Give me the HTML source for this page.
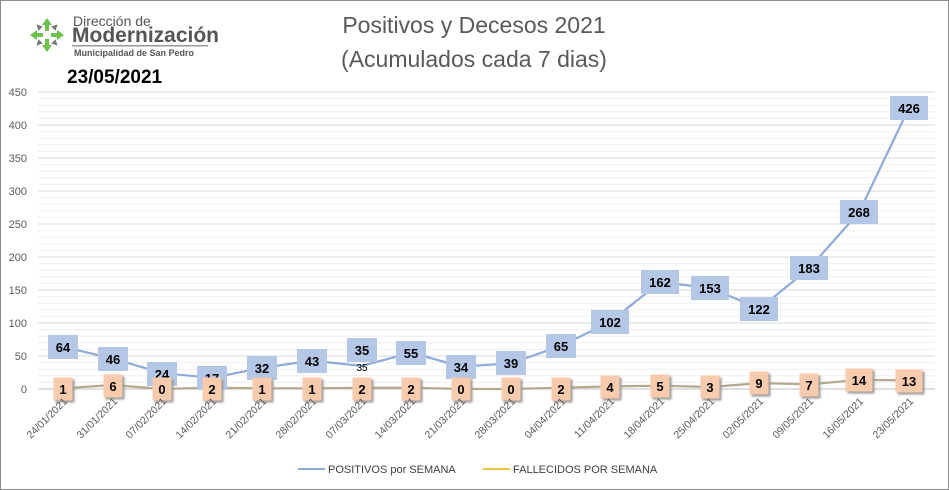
<!DOCTYPE html>
<html><head><meta charset="utf-8"><style>
body{margin:0;background:#fff}
svg{display:block;font-family:"Liberation Sans",sans-serif}
</style></head><body>
<svg width="949" height="490" viewBox="0 0 949 490">
<rect x="0.5" y="0.5" width="948" height="489" fill="#fff" stroke="#8c8c8c"/>
<!-- logo -->
<g transform="translate(47,35)">
<g fill="#6cc24a">
<path d="M0,-17 l5,7 h-3 v6 h-4 v-6 h-3z"/>
<path d="M0,-17 l5,7 h-3 v6 h-4 v-6 h-3z" transform="rotate(90)"/>
<path d="M0,-17 l5,7 h-3 v6 h-4 v-6 h-3z" transform="rotate(180)"/>
<path d="M0,-17 l5,7 h-3 v6 h-4 v-6 h-3z" transform="rotate(270)"/>
</g>
<g fill="#777">
<path d="M0,-15 l3,6 h-6z" transform="rotate(45)"/>
<path d="M0,-15 l3,6 h-6z" transform="rotate(135)"/>
<path d="M0,-15 l3,6 h-6z" transform="rotate(225)"/>
<path d="M0,-15 l3,6 h-6z" transform="rotate(315)"/>
</g>
</g>
<text x="73" y="26" font-size="14" fill="#555">Dirección de</text>
<text x="72" y="42" font-size="21" font-weight="bold" fill="#555">Modernización</text>
<rect x="72" y="45" width="136" height="1.5" fill="#999"/>
<text x="74" y="56" font-size="9" font-weight="bold" fill="#555">Municipalidad de San Pedro</text>
<text x="67" y="83" font-size="19" font-weight="bold" fill="#000">23/05/2021</text>
<text x="474" y="33" font-size="23" fill="#595959" text-anchor="middle">Positivos y Decesos 2021</text>
<text x="474" y="67" font-size="23" fill="#595959" text-anchor="middle">(Acumulados cada 7 dias)</text>
<!-- grid -->
<g stroke="#f0f0f0" stroke-width="1">
<path d="M38 382.4H935M38 375.8H935M38 369.2H935M38 362.6H935M38 349.4H935M38 342.8H935M38 336.2H935M38 329.6H935M38 316.4H935M38 309.8H935M38 303.2H935M38 296.6H935M38 283.4H935M38 276.8H935M38 270.2H935M38 263.6H935M38 250.4H935M38 243.8H935M38 237.2H935M38 230.6H935M38 217.4H935M38 210.8H935M38 204.2H935M38 197.6H935M38 184.4H935M38 177.8H935M38 171.2H935M38 164.6H935M38 151.4H935M38 144.8H935M38 138.2H935M38 131.6H935M38 118.4H935M38 111.8H935M38 105.2H935M38 98.6H935"/>
</g>
<g stroke="#d9d9d9" stroke-width="1">
<path d="M38 356H935M38 323H935M38 290H935M38 257H935M38 224H935M38 191H935M38 158H935M38 125H935M38 92H935"/>
</g>
<path d="M38 389H935" stroke="#bfbfbf"/>
<g font-size="11" fill="#595959" text-anchor="end">
<text x="27" y="393">0</text><text x="27" y="360">50</text><text x="27" y="327">100</text><text x="27" y="294">150</text><text x="27" y="261">200</text><text x="27" y="228">250</text><text x="27" y="195">300</text><text x="27" y="162">350</text><text x="27" y="129">400</text><text x="27" y="96">450</text>
</g>
<!-- lines -->
<polyline fill="none" stroke="#8eaad8" stroke-width="2.2" points="63,346.8 112.8,358.6 162.5,373.2 212.3,377.8 262,367.9 311.8,360.6 361.6,365.9 411.3,352.7 461.1,366.6 510.8,363.3 560.6,346.1 610.4,321.7 660.1,282.1 709.9,288 759.6,308.5 809.4,268.2 859.2,212.1 909,107.8"/>
<polyline fill="none" stroke="#b4a88e" stroke-width="2.2" points="63,388.3 112.8,385 162.5,389 212.3,387.7 262,388.3 311.8,388.3 361.6,387.7 411.3,387.7 461.1,389 510.8,389 560.6,387.7 610.4,386.4 660.1,385.7 709.9,387 759.6,383.1 809.4,384.4 859.2,379.8 909,380.4"/>
<!-- positive labels -->
<g fill="#b4c7e7">
<rect x="48" y="335" width="30" height="24"/><rect x="98" y="347" width="30" height="24"/><rect x="147" y="362" width="30" height="24"/><rect x="197" y="366" width="30" height="24"/><rect x="247" y="356" width="30" height="24"/><rect x="297" y="349" width="30" height="24"/><rect x="347" y="338" width="30" height="24"/><rect x="396" y="341" width="30" height="24"/><rect x="446" y="355" width="30" height="24"/><rect x="496" y="351" width="30" height="24"/><rect x="546" y="334" width="30" height="24"/><rect x="591" y="310" width="38" height="24"/><rect x="641" y="270" width="38" height="24"/><rect x="691" y="276" width="38" height="24"/><rect x="740" y="297" width="38" height="24"/><rect x="790" y="256" width="38" height="24"/><rect x="840" y="200" width="38" height="24"/><rect x="890" y="96" width="38" height="24"/>
</g>
<g font-size="13" font-weight="bold" fill="#000" text-anchor="middle">
<text x="63" y="352">64</text><text x="113" y="364">46</text><text x="162" y="379">24</text><text x="212" y="383">17</text><text x="262" y="373">32</text><text x="312" y="366">43</text><text x="362" y="355">35</text><text x="411" y="358">55</text><text x="461" y="372">34</text><text x="511" y="368">39</text><text x="561" y="351">65</text><text x="610" y="327">102</text><text x="660" y="287">162</text><text x="710" y="293">153</text><text x="759" y="314">122</text><text x="809" y="273">183</text><text x="859" y="217">268</text><text x="909" y="113">426</text>
</g>
<text x="362" y="371" font-size="10" fill="#000" text-anchor="middle">35</text>
<!-- death labels -->
<g fill="#f8cbad" stroke="#f8cbad">
<rect x="54" y="378" width="18" height="22" style="filter:drop-shadow(2px 2px 1px #999)"/><rect x="104" y="375" width="18" height="22" style="filter:drop-shadow(2px 2px 1px #999)"/><rect x="153" y="378" width="18" height="22" style="filter:drop-shadow(2px 2px 1px #999)"/><rect x="203" y="378" width="18" height="22" style="filter:drop-shadow(2px 2px 1px #999)"/><rect x="253" y="378" width="18" height="22" style="filter:drop-shadow(2px 2px 1px #999)"/><rect x="303" y="378" width="18" height="22" style="filter:drop-shadow(2px 2px 1px #999)"/><rect x="353" y="378" width="18" height="22" style="filter:drop-shadow(2px 2px 1px #999)"/><rect x="402" y="378" width="18" height="22" style="filter:drop-shadow(2px 2px 1px #999)"/><rect x="452" y="378" width="18" height="22" style="filter:drop-shadow(2px 2px 1px #999)"/><rect x="502" y="378" width="18" height="22" style="filter:drop-shadow(2px 2px 1px #999)"/><rect x="552" y="378" width="18" height="22" style="filter:drop-shadow(2px 2px 1px #999)"/><rect x="601" y="376" width="18" height="22" style="filter:drop-shadow(2px 2px 1px #999)"/><rect x="651" y="375" width="18" height="22" style="filter:drop-shadow(2px 2px 1px #999)"/><rect x="701" y="376" width="18" height="22" style="filter:drop-shadow(2px 2px 1px #999)"/><rect x="750" y="372" width="18" height="22" style="filter:drop-shadow(2px 2px 1px #999)"/><rect x="800" y="374" width="18" height="22" style="filter:drop-shadow(2px 2px 1px #999)"/><rect x="846" y="369" width="26" height="22" style="filter:drop-shadow(2px 2px 1px #999)"/><rect x="896" y="370" width="26" height="22" style="filter:drop-shadow(2px 2px 1px #999)"/>
</g>
<g font-size="13" font-weight="bold" fill="#000" text-anchor="middle">
<text x="63" y="394">1</text><text x="113" y="391">6</text><text x="162" y="394">0</text><text x="212" y="394">2</text><text x="262" y="394">1</text><text x="312" y="394">1</text><text x="362" y="394">2</text><text x="411" y="394">2</text><text x="461" y="394">0</text><text x="511" y="394">0</text><text x="561" y="394">2</text><text x="610" y="392">4</text><text x="660" y="391">5</text><text x="710" y="392">3</text><text x="759" y="388">9</text><text x="809" y="390">7</text><text x="859" y="385">14</text><text x="909" y="386">13</text>
</g>
<!-- x labels -->
<g font-size="10.5" fill="#595959" text-anchor="end">
<text transform="translate(68,402) rotate(-45)">24/01/2021</text><text transform="translate(118,402) rotate(-45)">31/01/2021</text><text transform="translate(167,402) rotate(-45)">07/02/2021</text><text transform="translate(217,402) rotate(-45)">14/02/2021</text><text transform="translate(267,402) rotate(-45)">21/02/2021</text><text transform="translate(317,402) rotate(-45)">28/02/2021</text><text transform="translate(367,402) rotate(-45)">07/03/2021</text><text transform="translate(416,402) rotate(-45)">14/03/2021</text><text transform="translate(466,402) rotate(-45)">21/03/2021</text><text transform="translate(516,402) rotate(-45)">28/03/2021</text><text transform="translate(566,402) rotate(-45)">04/04/2021</text><text transform="translate(615,402) rotate(-45)">11/04/2021</text><text transform="translate(665,402) rotate(-45)">18/04/2021</text><text transform="translate(715,402) rotate(-45)">25/04/2021</text><text transform="translate(764,402) rotate(-45)">02/05/2021</text><text transform="translate(814,402) rotate(-45)">09/05/2021</text><text transform="translate(864,402) rotate(-45)">16/05/2021</text><text transform="translate(914,402) rotate(-45)">23/05/2021</text>
</g>
<!-- legend -->
<path d="M298 469H325" stroke="#8eaad8" stroke-width="2"/>
<text x="328" y="473" font-size="11" fill="#404040">POSITIVOS por SEMANA</text>
<path d="M483 469H510" stroke="#f0c040" stroke-width="2"/>
<text x="513" y="473" font-size="11" fill="#404040">FALLECIDOS POR SEMANA</text>
</svg>
</body></html>
